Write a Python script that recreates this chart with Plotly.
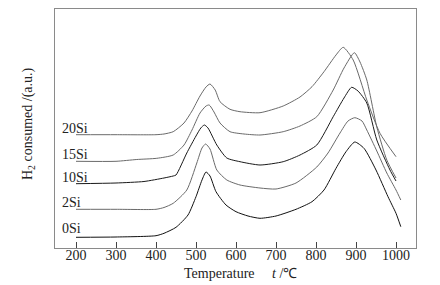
import plotly.graph_objects as go

# Temperature (°C) and H2 consumption (a.u., stacked/offset as in figure)
t_0si = [200, 300, 400, 420, 450, 480, 500, 515, 525, 535, 550, 575, 600, 630, 660, 700, 750, 790, 820, 850, 875, 897, 920, 950, 980, 1000, 1012]
h_0si = [10.7, 11, 12.3, 14.7, 20.7, 33, 51.3, 68, 76, 72, 56.3, 43, 36.3, 32, 29.7, 32, 38.7, 46.3, 58, 79.7, 96.3, 106, 99.7, 78, 51.3, 34.7, 21.3]

t_2si = [200, 300, 400, 420, 443, 477, 502, 515, 524, 535, 552, 577, 610, 660, 700, 750, 802, 830, 860, 880, 897, 915, 927, 952, 977, 1000, 1012]
h_2si = [38.7, 38.7, 38.7, 40.5, 44.7, 58, 85, 100, 104, 99, 78, 68, 63, 60, 59, 65, 81, 95, 115, 127, 130.3, 127, 118, 97, 75, 58, 48]

t_10si = [200, 300, 370, 420, 443, 450, 477, 500, 512, 521, 530, 552, 577, 610, 660, 718, 760, 802, 843, 870, 889, 905, 927, 952, 985, 1000]
h_10si = [64.3, 65, 66.5, 70, 72, 73, 95, 112, 120, 123, 120, 103, 90, 86.3, 83, 86.3, 93, 103, 131.3, 150, 160.7, 157, 145, 108, 78, 67]

t_15si = [200, 300, 352, 402, 443, 470, 490, 510, 525, 533, 545, 560, 585, 620, 660, 718, 760, 802, 843, 870, 896, 910, 927, 952, 977, 1000]
h_15si = [86.7, 86.7, 88.5, 89.7, 93, 103, 118, 135, 142, 143, 136, 125, 116.3, 114, 113, 116.3, 122, 131.3, 158, 180, 195.3, 186, 168, 121, 88, 70]

t_20si = [200, 300, 400, 420, 443, 470, 490, 510, 525, 535, 548, 560, 585, 610, 660, 718, 760, 790, 820, 850, 868, 893, 927, 960, 1000]
h_20si = [113.3, 113.3, 113.3, 114, 116.3, 125, 137, 152, 161, 164, 158, 146.3, 138.7, 136.3, 135.3, 142, 151, 161.3, 176.3, 193, 200.7, 188, 148, 114.7, 91.3]

series_names = ["0Si", "2Si", "10Si", "15Si", "20Si"]
series_t = [t_0si, t_2si, t_10si, t_15si, t_20si]
series_h = [h_0si, h_2si, h_10si, h_15si, h_20si]
label_y = [20, 45.3, 70.3, 93.7, 119.7]
label_x = 160
colors = ["#111111", "#6a6a6a", "#1a1a1a", "#6a6a6a", "#6a6a6a"]

tick_vals = [200, 300, 400, 500, 600, 700, 800, 900, 1000]
x_title = "Temperature     <i>t</i> /℃"
y_title = "H<sub>2</sub> consumed /(a.u.)"

FONT = "Liberation Serif"
W, H = 440, 285
ML, MR, MT, MB = 55, 24, 9, 37
PW, PH = W - ML - MR, H - MT - MB

fig = go.Figure()
for name, t, h, c in zip(series_names, series_t, series_h, colors):
    fig.add_trace(go.Scatter(x=t, y=h, mode="lines", name=name,
                             line=dict(color=c, width=1.0, shape="spline", smoothing=0.6),
                             showlegend=False, hoverinfo="skip"))

for name, ly in zip(series_names, label_y):
    fig.add_annotation(x=label_x, y=ly, text=name, showarrow=False,
                       xanchor="left", yanchor="middle",
                       font=dict(family=FONT, size=14, color="#222222"))

fig.add_annotation(x=(240 - ML) / PW, y=(H - MB - 273) / PH, xref="paper", yref="paper",
                   text=x_title, showarrow=False, xanchor="center", yanchor="middle",
                   font=dict(family=FONT, size=14, color="#222222"))
fig.add_annotation(x=(28 - ML) / PW, y=(H - MB - 124) / PH, xref="paper", yref="paper",
                   text=y_title, showarrow=False, textangle=-90,
                   xanchor="center", yanchor="middle",
                   font=dict(family=FONT, size=14, color="#222222"))

fig.update_layout(
    width=W, height=H,
    margin=dict(l=ML, r=MR, t=MT, b=MB, autoexpand=False),
    paper_bgcolor="white", plot_bgcolor="white",
    font=dict(family=FONT, size=14, color="#222222"),
    xaxis=dict(range=[147.5, 1050], tickvals=tick_vals, ticks="inside", ticklen=6,
               tickcolor="#444444", showgrid=False, zeroline=False, automargin=False,
               showline=True, linecolor="#8a8a8a", linewidth=1, mirror=True,
               ticklabelstandoff=-6,
               tickfont=dict(family=FONT, size=14, color="#222222")),
    yaxis=dict(range=[0, 239], showticklabels=False, ticks="", showgrid=False, automargin=False,
               zeroline=False, showline=True, linecolor="#8a8a8a", linewidth=1, mirror=True),
)

fig.write_html("out.html", config={"displayModeBar": False},
               post_script="document.body.style.margin='0';document.body.style.padding='0';")
